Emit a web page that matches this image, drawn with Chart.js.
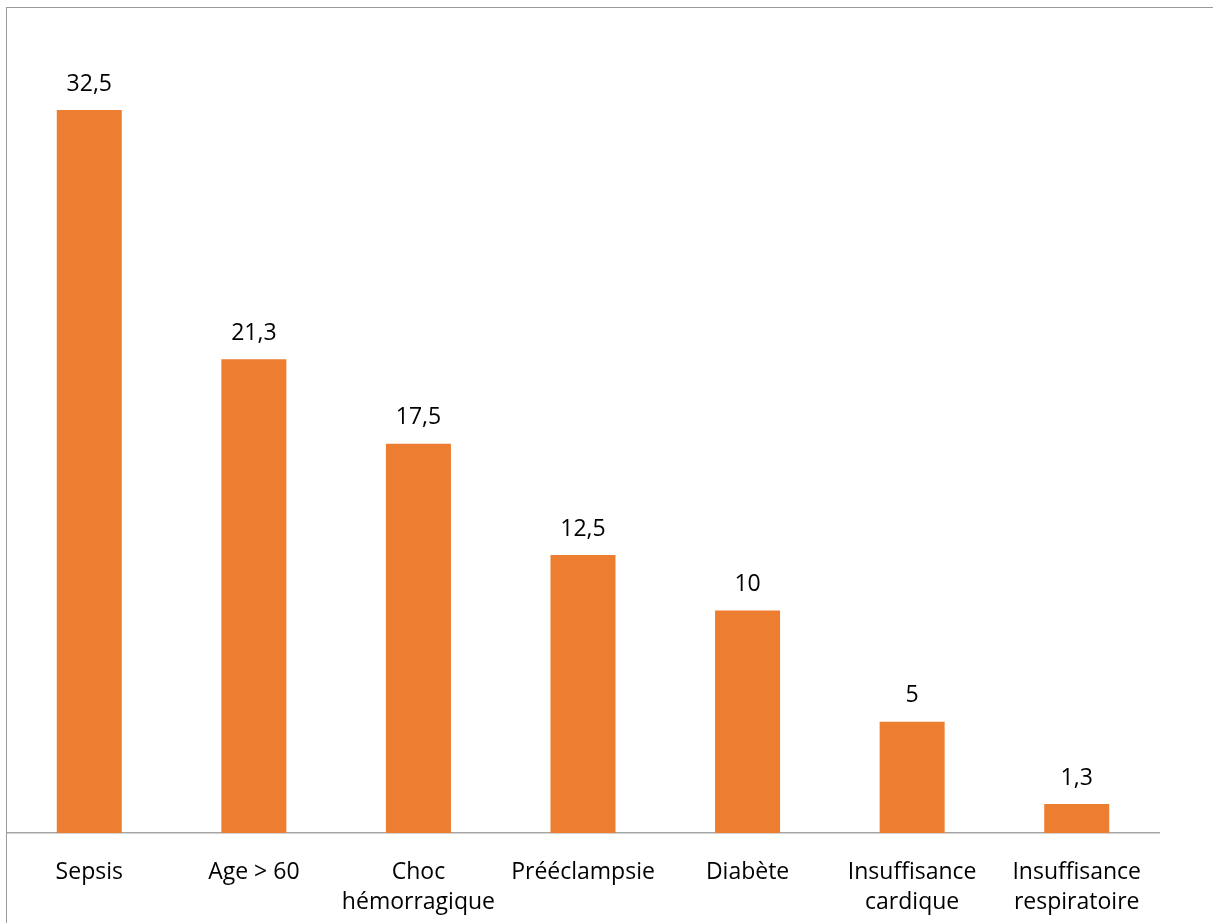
<!DOCTYPE html>
<html lang="fr">
<head>
<meta charset="utf-8">
<title>Facteurs</title>
<script src="https://cdn.jsdelivr.net/npm/chart.js@4.4.1/dist/chart.umd.min.js"></script>
<style>
    html, body { margin: 0; padding: 0; background: #fff; }
    #wrap { position: relative; width: 1213px; height: 923px; }
    #frame {
        position: absolute; left: 6px; top: 7px; right: 0; bottom: 0;
        border-left: 1px solid #9a9a9a; border-top: 1px solid #9a9a9a;
        pointer-events: none;
    }
</style>
</head>
<body>
<div id="wrap">
    <canvas id="myChart" width="1213" height="923"></canvas>
    <div id="frame"></div>
</div>
<script>
// categories and values
const categories = [
    'Sepsis',
    'Age > 60',
    ['Choc', 'hémorragique'],
    'Prééclampsie',
    'Diabète',
    ['Insuffisance', 'cardique'],
    ['Insuffisance', 'respiratoire']
];
const values = [32.5, 21.3, 17.5, 12.5, 10, 5, 1.3];

const barColor = '#ED7D31';
const fontFamily = "'Open Sans', 'Liberation Sans', sans-serif";
const fontSize = 23;

// writes the value (decimal comma) above each bar
const valueLabels = {
    id: 'valueLabels',
    afterDatasetsDraw(chart) {
        const ctx = chart.ctx;
        const meta = chart.getDatasetMeta(0);
        ctx.save();
        ctx.fillStyle = '#000';
        ctx.font = fontSize + 'px ' + fontFamily;
        ctx.textAlign = 'center';
        ctx.textBaseline = 'middle';
        meta.data.forEach(function(bar, i) {
            const txt = String(values[i]).replace('.', ',');
            ctx.fillText(txt, bar.x, bar.y - 26);
        });
        ctx.restore();
    }
};

document.addEventListener('DOMContentLoaded', function() {
    const ctx = document.getElementById('myChart').getContext('2d');
    new Chart(ctx, {
        type: 'bar',
        data: {
            labels: categories,
            datasets: [{
                data: values,
                backgroundColor: barColor,
                borderWidth: 0,
                barPercentage: 0.395,
                categoryPercentage: 1
            }]
        },
        options: {
            responsive: false,
            animation: false,
            layout: { padding: { left: 7, right: 54, top: 0, bottom: 0 } },
            plugins: {
                legend: { display: false },
                tooltip: { enabled: false }
            },
            scales: {
                x: {
                    afterFit(scale) { scale.height = 90; },
                    grid: { display: false, drawTicks: false },
                    border: { display: true, color: '#a6a6a6', width: 1.5 },
                    ticks: {
                        color: '#000',
                        padding: 25,
                        maxRotation: 0,
                        autoSkip: false,
                        font: { family: fontFamily, size: fontSize, lineHeight: 1.3 }
                    }
                },
                y: {
                    display: false,
                    min: 0,
                    max: 37.45
                }
            }
        },
        plugins: [valueLabels]
    });
});
</script>
</body>
</html>
